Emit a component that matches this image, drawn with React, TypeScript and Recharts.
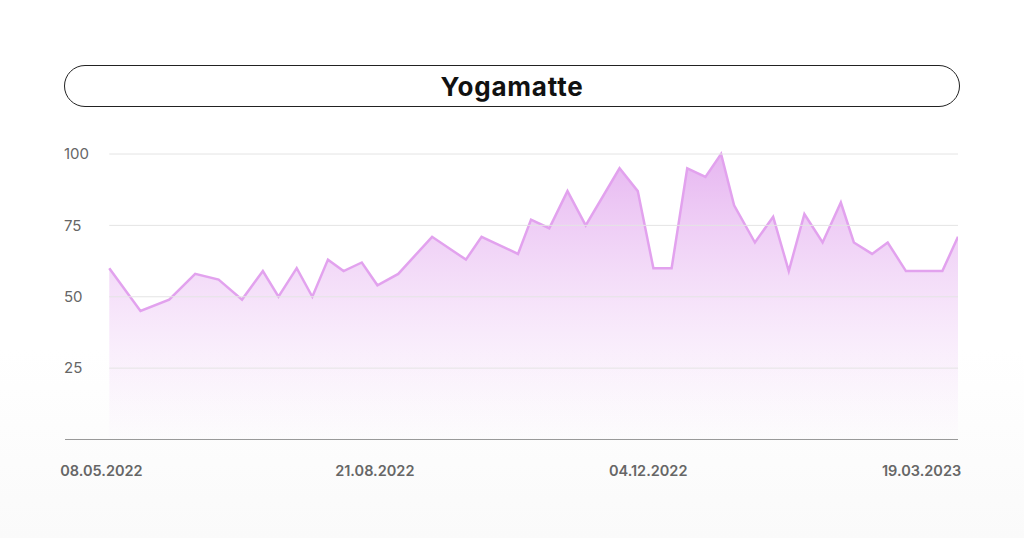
import React from "react";
import { ComposedChart, Area, XAxis, YAxis, ReferenceLine } from "recharts";

// days since 08.05.2022
const days = [3, 15, 26, 36, 45, 54, 62, 68, 75, 81, 87, 93, 100, 106, 114, 127, 140, 146, 160, 165, 172, 179, 186, 199, 206, 212, 219, 225, 232, 238, 243, 251, 258, 264, 270, 277, 284, 289, 296, 302, 309, 316, 323, 329];
const values = [60, 45, 49, 58, 56, 49, 59, 50, 60, 50, 63, 59, 62, 54, 58, 71, 63, 71, 65, 77, 74, 87, 75, 95, 87, 60, 60, 95, 92, 100, 82, 69, 78, 59, 79, 69, 83, 69, 65, 69, 59, 59, 59, 71];
const tickDays = [0, 105, 210, 315];
const tickLabels = ["08.05.2022", "21.08.2022", "04.12.2022", "19.03.2023"];
const yTicks = [25, 50, 75, 100];
const title = "Yogamatte";

const data = days.map((d, i) => ({ day: d, value: values[i] }));

const YTick = (props: any) => {
  const { x, y, payload } = props;
  return (
    <text x={x - 1} y={y} dy="0.355em" textAnchor="start" fill="#666" fontSize={15} fontFamily="Inter, sans-serif">
      {payload.value}
    </text>
  );
};

export default function App() {
  return (
    <div
      style={{
        position: "absolute",
        left: 0,
        top: 0,
        width: 1024,
        height: 538,
        background: "linear-gradient(#ffffff 65%, #fafafa 100%)",
        overflow: "hidden",
      }}
    >
      <div
        style={{
          position: "absolute",
          left: 64,
          top: 65,
          width: 896,
          height: 42,
          boxSizing: "border-box",
          border: "1.5px solid #222",
          borderRadius: 21,
          display: "flex",
          alignItems: "center",
          justifyContent: "center",
          fontFamily: "Inter, sans-serif",
          fontWeight: 700,
          fontSize: 26,
          letterSpacing: 0.8,
          color: "#111",
          background: "#fff",
        }}
      >
        {title}
      </div>
      <div style={{ position: "absolute", left: 0, top: 0 }}>
        <ComposedChart
          width={1024}
          height={538}
          data={data}
          margin={{ top: 154, right: 66, bottom: 58.5, left: 20 }}
        >
          <defs>
            <linearGradient id="areaFill" x1="0" y1="0" x2="0" y2="1">
              <stop offset="0%" stopColor="#d47fe6" stopOpacity={0.95} />
              <stop offset="100%" stopColor="#e8b8f2" stopOpacity={0.03} />
            </linearGradient>
          </defs>
          <XAxis
            dataKey="day"
            type="number"
            domain={[-14, 329]}
            ticks={tickDays}
            tickFormatter={(v: number) => tickLabels[tickDays.indexOf(v)]}
            height={40}
            axisLine={{ stroke: "#999", strokeWidth: 1 }}
            tickLine={false}
            tickMargin={20}
            tick={{ fill: "#666", fontSize: 14.5, fontWeight: 600, fontFamily: "Inter, sans-serif" }}
            allowDataOverflow
          />
          <YAxis
            type="number"
            domain={[0, 100]}
            ticks={yTicks}
            width={45}
            axisLine={false}
            tickLine={false}
            tickSize={0}
            tickMargin={0}
            tick={<YTick />}
          />
          {yTicks.map((t) => (
            <ReferenceLine
              key={t}
              segment={[
                { x: days[0], y: t },
                { x: days[days.length - 1], y: t },
              ]}
              stroke="#e4e4e4"
              strokeWidth={1}
            />
          ))}
          <Area
            type="linear"
            dataKey="value"
            stroke="#e2a2ee"
            strokeWidth={2.5}
            fill="url(#areaFill)"
            isAnimationActive={false}
            dot={false}
            activeDot={false}
          />
        </ComposedChart>
      </div>
    </div>
  );
}
